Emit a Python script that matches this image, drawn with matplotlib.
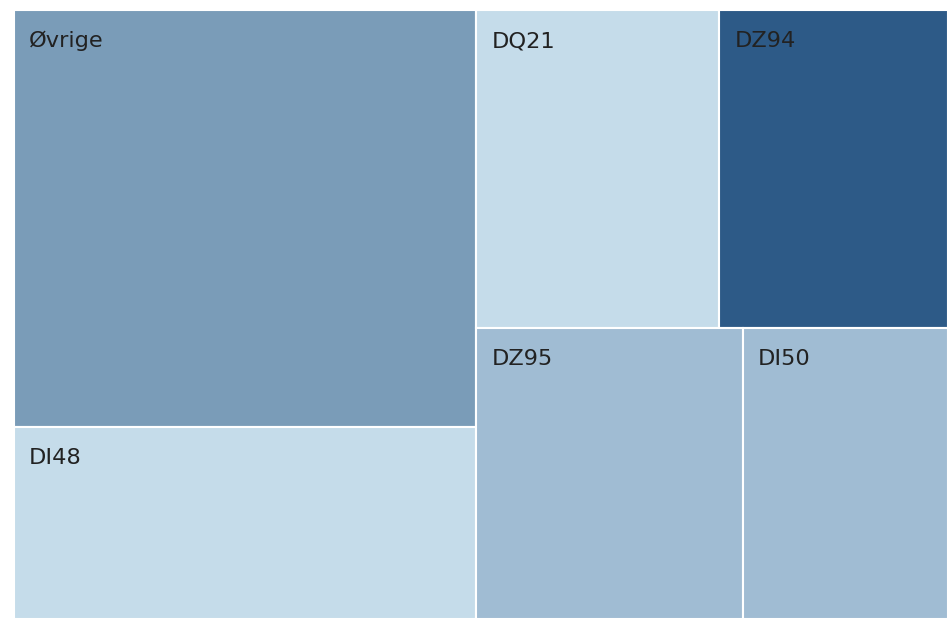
import matplotlib
matplotlib.use("Agg")
import matplotlib.pyplot as plt
from matplotlib.patches import Rectangle

# share of total (approx)
labels = ["Øvrige", "DI48", "DQ21", "DZ94", "DZ95", "DI50"]
values = [33.9, 15.6, 13.6, 12.8, 13.6, 10.5]
colors = ["#7a9cb8", "#c5dcea", "#c5dcea", "#2d5a87", "#a0bcd3", "#a0bcd3"]

# left column: Øvrige over DI48, right column: two rows of two
left_col = [0, 1]
right_rows = [[2, 3], [4, 5]]

W, H = 948, 619
x0, y0, w, h = 14, 10, 934, 609

fig = plt.figure(figsize=(W / 100, H / 100), dpi=100)
ax = fig.add_axes([0, 0, 1, 1])
ax.set_xlim(0, W)
ax.set_ylim(H, 0)
ax.axis("off")

total = sum(values)
rects = {}

left_sum = sum(values[i] for i in left_col)
lw_ = w * left_sum / total
y = y0
for i in left_col:
    hh = h * values[i] / left_sum
    rects[i] = (x0, y, lw_, hh)
    y += hh

right_sum = total - left_sum
rx = x0 + lw_
rw = w - lw_
y = y0
for row in right_rows:
    row_sum = sum(values[i] for i in row)
    rh = h * row_sum / right_sum
    x = rx
    for i in row:
        cw = rw * values[i] / row_sum
        rects[i] = (x, y, cw, rh)
        x += cw
    y += rh

for i, (x, y, cw, ch) in rects.items():
    ax.add_patch(Rectangle((x, y), cw, ch, facecolor=colors[i],
                           edgecolor="white", linewidth=1.5))
    ax.text(x + 15, y + 21, labels[i], fontsize=16.2, color="#222222",
            ha="left", va="top", family="DejaVu Sans")

fig.savefig("out.png", dpi=100)
